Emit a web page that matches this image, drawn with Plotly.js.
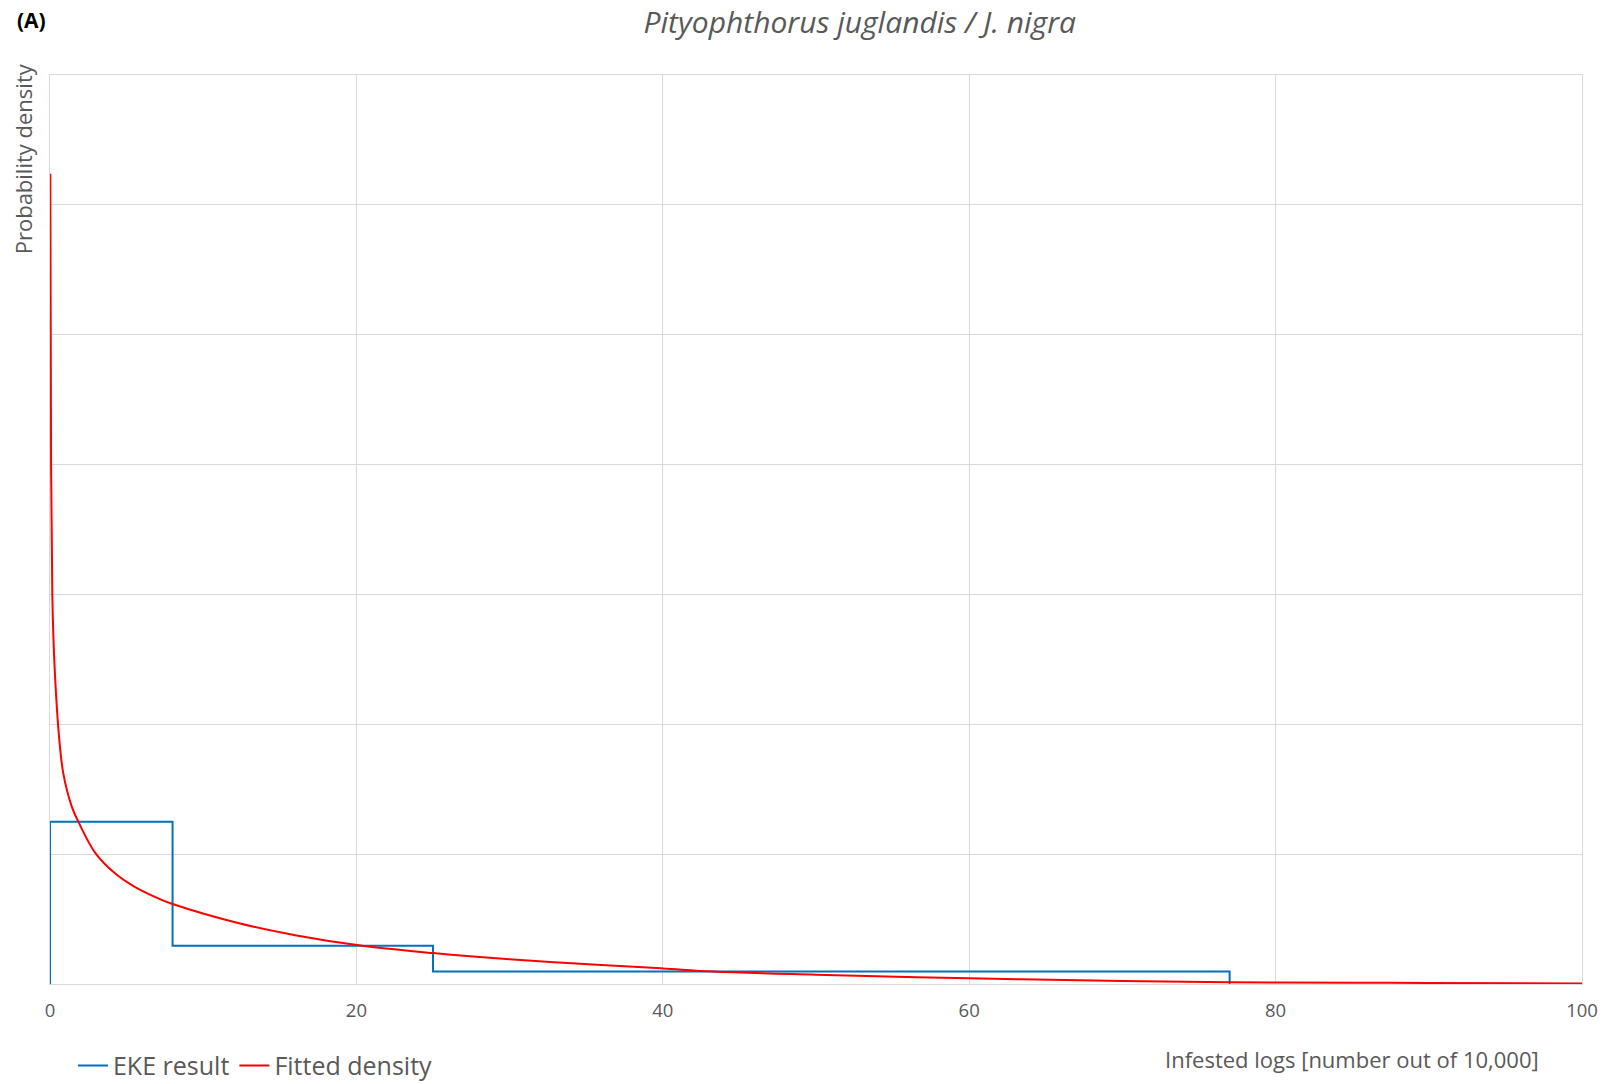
<!DOCTYPE html>
<html>
<head>
<meta charset="utf-8">
<script src="https://cdn.plot.ly/plotly-3.0.1.min.js"></script>
<style>html,body{margin:0;padding:0;background:#fff;}#chart{width:1607px;height:1084px;}</style>
</head>
<body>
<div id="chart"></div>
<script>
// EKE result: interval edges and densities
const ekeEdges = [0, 8, 25, 77];
const ekeDensity = [0.0625, 0.0147, 0.0048];
// Fitted density curve
const fitX = [0.02, 0.07, 0.15, 0.3, 0.61, 0.87, 1.41, 1.85, 2.94, 4.24, 5.5, 7.29, 8, 12.4, 16, 20.4, 25, 30, 36, 40, 43.3, 50, 60, 70, 77, 85, 90, 100];
const fitY = [0.312, 0.2, 0.15, 0.122, 0.0938, 0.081, 0.0685, 0.0625, 0.0506, 0.0426, 0.0375, 0.0324, 0.0308, 0.0233, 0.0188, 0.0147, 0.0119, 0.0095, 0.0073, 0.006, 0.0048, 0.0036, 0.0022, 0.0012, 0.0007, 0.0005, 0.0004, 0.0002];
const xTicks = [0, 20, 40, 60, 80, 100];

const stepX = [ekeEdges[0]], stepY = [0];
for (let i = 0; i < ekeDensity.length; i++) { stepX.push(ekeEdges[i]); stepY.push(ekeDensity[i]); }
stepX.push(ekeEdges[ekeEdges.length - 1]); stepY.push(ekeDensity[ekeDensity.length - 1]);
stepX.push(ekeEdges[ekeEdges.length - 1]); stepY.push(0);

const grey = '#595959';
const font = '"Open Sans", "Noto Sans", sans-serif';

const traces = [
  {x: stepX, y: stepY, type: 'scatter', mode: 'lines', name: 'EKE result',
   line: {color: '#0070C0', width: 2, shape: 'hv'}},
  {x: fitX, y: fitY, type: 'scatter', mode: 'lines', name: 'Fitted density',
   line: {color: '#FF0000', width: 2, shape: 'spline', smoothing: 1}}
];

const layout = {
  width: 1607, height: 1084,
  paper_bgcolor: '#fff', plot_bgcolor: '#fff',
  margin: {l: 50, r: 25, t: 75, b: 100, autoexpand: false},
  font: {family: font, color: grey},
  title: {text: '<i>Pityophthorus juglandis / J. nigra</i>', x: 0.535, xanchor: 'center', y: 0.9795, yanchor: 'middle',
          font: {family: font, size: 30, color: grey}},
  xaxis: {range: [0, 100], tickvals: xTicks, ticktext: xTicks.map(String), showgrid: true, gridcolor: '#d9d9d9', gridwidth: 1,
          zeroline: false, showline: true, mirror: true, linecolor: '#d9d9d9', linewidth: 1, ticks: '',
          ticklabelstandoff: 10, tickfont: {size: 18.5, color: grey, family: font}},
  yaxis: {range: [0, 0.35], dtick: 0.05, showticklabels: false, showgrid: true, gridcolor: '#d9d9d9', gridwidth: 1,
          zeroline: false, showline: true, mirror: true, linecolor: '#d9d9d9', linewidth: 1, ticks: ''},
  showlegend: true,
  legend: {orientation: 'h', x: 0.015, xanchor: 'left', y: -0.09, yanchor: 'middle', font: {size: 25, color: grey, family: font},
           itemwidth: 30, tracegroupgap: 0, bgcolor: 'rgba(0,0,0,0)'},
  annotations: [
    {text: '<b>(A)</b>', xref: 'paper', yref: 'paper', x: -0.023, y: 1.06, xanchor: 'left', yanchor: 'middle',
     showarrow: false, font: {size: 21, color: '#000', family: font}},
    {text: 'Probability density', xref: 'paper', yref: 'paper', x: -0.018, y: 1.015, xanchor: 'center', yanchor: 'top',
     textangle: -90, showarrow: false, font: {size: 22, color: grey, family: font}},
    {text: 'Infested logs [number out of 10,000]', xref: 'paper', yref: 'paper', x: 0.973, y: -0.082, xanchor: 'right', yanchor: 'middle',
     showarrow: false, font: {size: 22, color: grey, family: font}}
  ]
};

Plotly.newPlot('chart', traces, layout, {displayModeBar: false, staticPlot: true});
</script>
</body>
</html>
